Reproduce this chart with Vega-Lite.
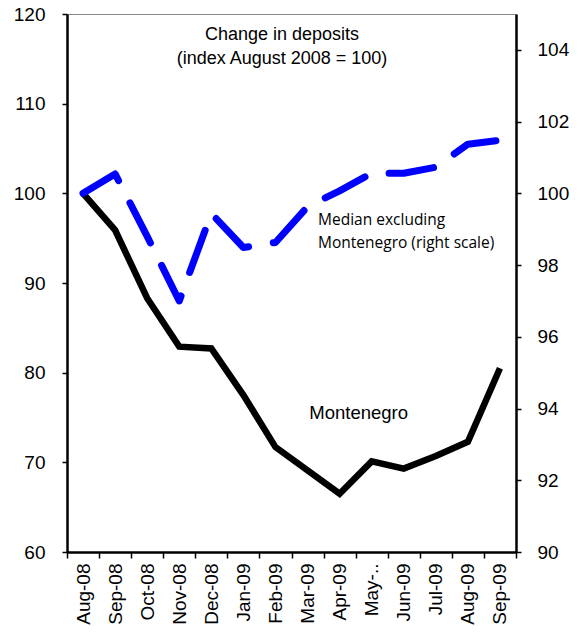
{
  "$schema": "https://vega.github.io/schema/vega-lite/v6.json",
  "width": 449,
  "height": 538,
  "autosize": "none",
  "padding": {"left": 67, "top": 14, "right": 65, "bottom": 81},
  "background": "white",
  "config": {
    "view": {"stroke": "#888888", "strokeWidth": 1},
    "font": "Liberation Sans",
    "axis": {"grid": false, "title": null, "domainColor": "black", "tickColor": "black", "labelColor": "black", "labelFont": "Liberation Sans"}
  },
  "data": {
    "values": [
      {"month": "Aug-08", "montenegro": 100, "median": 100},
      {"month": "Sep-08", "montenegro": 95.9, "median": 100.54},
      {"month": "Oct-08", "montenegro": 88.3, "median": 98.8},
      {"month": "Nov-08", "montenegro": 82.9, "median": 97.0},
      {"month": "Dec-08", "montenegro": 82.7, "median": 99.44},
      {"month": "Jan-09", "montenegro": 77.5, "median": 98.49},
      {"month": "Feb-09", "montenegro": 71.7, "median": 98.63},
      {"month": "Mar-09", "montenegro": 69.1, "median": 99.63},
      {"month": "Apr-09", "montenegro": 66.5, "median": 100.07},
      {"month": "May-09", "montenegro": 70.1, "median": 100.56},
      {"month": "Jun-09", "montenegro": 69.3, "median": 100.56},
      {"month": "Jul-09", "montenegro": 70.7, "median": 100.73},
      {"month": "Aug-09", "montenegro": 72.3, "median": 101.37},
      {"month": "Sep-09", "montenegro": 80.5, "median": 101.48}
    ]
  },
  "encoding": {
    "x": {
      "field": "month",
      "type": "ordinal",
      "sort": null,
      "scale": {
        "domain": ["Aug-08","Sep-08","Oct-08","Nov-08","Dec-08","Jan-09","Feb-09","Mar-09","Apr-09","May-09","Jun-09","Jul-09","Aug-09","Sep-09"],
        "paddingInner": 0,
        "paddingOuter": 0
      },
      "axis": {
        "title": null,
        "tickBand": "extent",
        "tickSize": 6,
        "tickWidth": 1.5,
        "domainWidth": 2.5,
        "labelAngle": 270,
        "labelAlign": "right",
        "labelBaseline": "middle",
        "labelPadding": 5,
        "labelFontSize": 19,
        "labelExpr": "datum.value == 'May-09' ? 'May-..' : datum.value"
      }
    }
  },
  "layer": [
    {
      "layer": [
        {
          "mark": {"type": "line", "color": "black", "strokeWidth": 6.5, "strokeJoin": "miter"},
          "encoding": {
            "y": {
              "field": "montenegro",
              "type": "quantitative",
              "scale": {"domain": [60, 120], "nice": false, "zero": false},
              "axis": {
                "title": null,
                "values": [60, 70, 80, 90, 100, 110, 120],
                "tickSize": 5,
                "tickWidth": 1.5,
                "domainWidth": 2.5,
                "labelFontSize": 19,
                "labelPadding": 17
              }
            }
          }
        },
        {
          "data": {
            "values": [
              {"month": "Feb-09", "v": 117.66, "label": "Change in deposits"},
              {"month": "Feb-09", "v": 115.0, "label": "(index August 2008 = 100)"}
            ]
          },
          "mark": {"type": "text", "font": "Liberation Sans", "fontSize": 18, "align": "center", "baseline": "middle", "dx": 6.5, "color": "black"},
          "encoding": {
            "y": {"field": "v", "type": "quantitative", "title": null},
            "text": {"field": "label"}
          }
        },
        {
          "data": {"values": [{"month": "Apr-09", "v": 75.5, "label": "Montenegro"}]},
          "mark": {"type": "text", "font": "Liberation Sans", "fontSize": 18.5, "align": "center", "baseline": "middle", "dx": 19, "color": "black"},
          "encoding": {
            "y": {"field": "v", "type": "quantitative", "title": null},
            "text": {"field": "label"}
          }
        }
      ]
    },
    {
      "layer": [
        {
          "mark": {"type": "line", "color": "#0000ff", "strokeWidth": 7, "strokeDash": [45, 25], "strokeCap": "round", "strokeJoin": "round"},
          "encoding": {
            "y": {
              "field": "median",
              "type": "quantitative",
              "scale": {"domain": [90, 105], "nice": false, "zero": false},
              "axis": {
                "orient": "right",
                "title": null,
                "values": [90, 92, 94, 96, 98, 100, 102, 104],
                "tickSize": 5,
                "tickWidth": 1.5,
                "domainWidth": 2.5,
                "labelFontSize": 19,
                "labelPadding": 16
              }
            }
          }
        },
        {
          "data": {
            "values": [
              {"month": "Mar-09", "v": 99.26, "label": "Median excluding"},
              {"month": "Mar-09", "v": 98.61, "label": "Montenegro (right scale)"}
            ]
          },
          "mark": {"type": "text", "font": "Open Sans", "fontSize": 15.5, "align": "left", "baseline": "middle", "dx": 10.5, "color": "black"},
          "encoding": {
            "y": {"field": "v", "type": "quantitative", "title": null},
            "text": {"field": "label"}
          }
        }
      ]
    }
  ],
  "resolve": {"scale": {"y": "independent"}}
}
